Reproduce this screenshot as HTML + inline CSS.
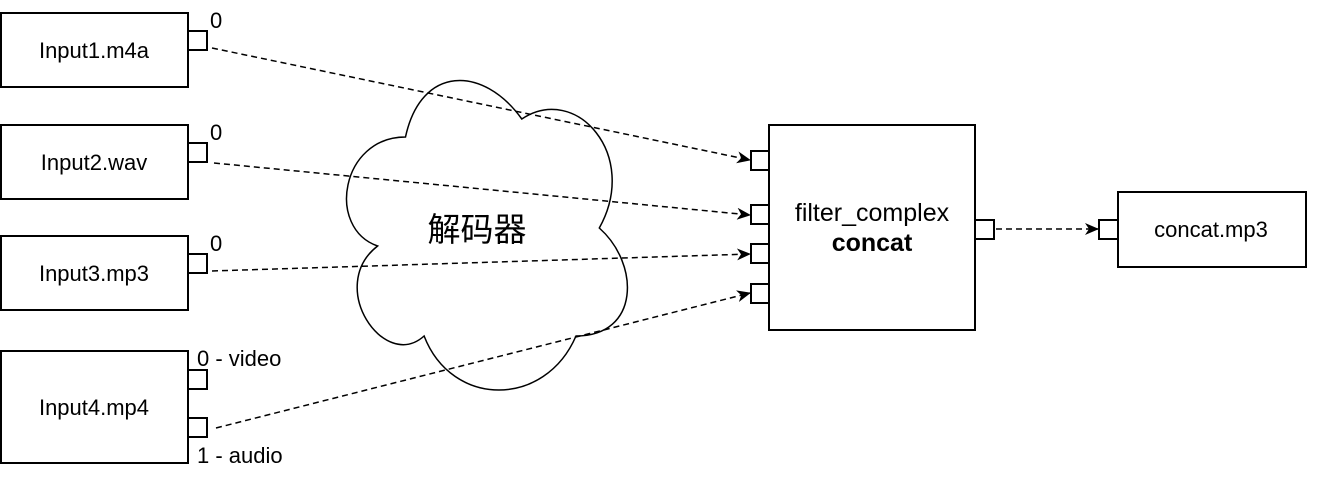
<!DOCTYPE html>
<html><head><meta charset="utf-8"><style>
html,body{margin:0;padding:0;background:#fff;width:1334px;height:480px;overflow:hidden}
text{font-family:"Liberation Sans","Noto Sans CJK SC",sans-serif;fill:#000}
</style></head><body>
<svg width="1334" height="480" viewBox="0 0 1334 480" xmlns="http://www.w3.org/2000/svg">
<defs><marker id="a" markerWidth="14" markerHeight="12" refX="13" refY="6" orient="auto" markerUnits="userSpaceOnUse"><path d="M0,0 L14,6 L0,12 L4,6 Z" fill="#000"/></marker></defs>
<g fill="#fff" stroke="#000" stroke-width="2">
<path d="M405.5,137 C341,137 326,228 377.6,246 C326,286 383.8,372 424.1,336 C452,408 545,408 576,336 C640,336 640,264 599.3,228 C640,155 576,83 521.8,119 C483,65 421,65 405.5,137 Z" stroke-width="1.5"/>
<rect x="1" y="13" width="187" height="74"/>
<rect x="1" y="125" width="187" height="74"/>
<rect x="1" y="236" width="187" height="74"/>
<rect x="1" y="351" width="187" height="112"/>
<rect x="188" y="31" width="19" height="19"/>
<rect x="188" y="143" width="19" height="19"/>
<rect x="188" y="254" width="19" height="19"/>
<rect x="188" y="370" width="19" height="19"/>
<rect x="188" y="418" width="19" height="19"/>
<rect x="769" y="125" width="206" height="205"/>
<rect x="751" y="151" width="18" height="19"/>
<rect x="751" y="205" width="18" height="19"/>
<rect x="751" y="244" width="18" height="19"/>
<rect x="751" y="284" width="18" height="19"/>
<rect x="975" y="220" width="19" height="19"/>
<rect x="1118" y="192" width="188" height="75"/>
<rect x="1099" y="220" width="19" height="19"/>
</g>
<g stroke="#000" stroke-width="1.5" stroke-dasharray="6,4" fill="none" marker-end="url(#a)">
<line x1="212" y1="48" x2="750" y2="160"/>
<line x1="214" y1="163" x2="750" y2="215"/>
<line x1="212" y1="271" x2="750" y2="254"/>
<line x1="216" y1="428" x2="750" y2="293"/>
<line x1="996" y1="229" x2="1098" y2="229"/>
</g>
<g font-size="22" text-anchor="middle">
<text x="94" y="58">Input1.m4a</text>
<text x="94" y="170">Input2.wav</text>
<text x="94" y="281">Input3.mp3</text>
<text x="94" y="415">Input4.mp4</text>
<text x="1211" y="237">concat.mp3</text>
<text x="872" y="221" font-size="25">filter_complex</text>
<text x="872" y="251" font-size="25" font-weight="bold">concat</text>
<text x="477" y="241" font-size="33">解码器</text>
</g>
<g font-size="22">
<text x="210" y="28">0</text>
<text x="210" y="140">0</text>
<text x="210" y="251">0</text>
<text x="197" y="366">0 - video</text>
<text x="197" y="463">1 - audio</text>
</g>
</svg>
</body></html>
